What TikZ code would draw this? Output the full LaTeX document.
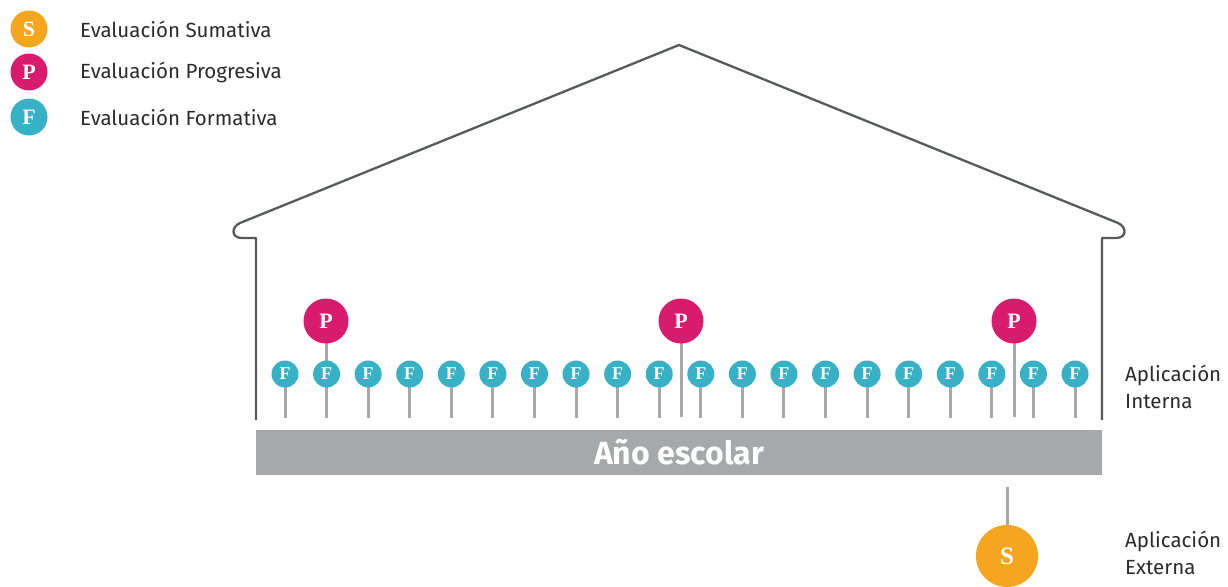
\documentclass[tikz,border=0pt]{standalone}
\usepackage{fontspec}
\setmainfont{Fira Sans}
\newfontfamily\pinfont{Liberation Serif}
\definecolor{sumc}{HTML}{F6A51F}
\definecolor{proc}{HTML}{D81B6C}
\definecolor{forc}{HTML}{37B1C5}
\definecolor{stemc}{HTML}{A7A8AB}
\definecolor{housec}{HTML}{58595B}
\definecolor{txtc}{HTML}{2B2B2B}
\begin{document}
\begin{tikzpicture}[x=1pt,y=-1pt,
  pin/.style={circle,inner sep=0pt,text=white,font=\pinfont\bfseries},
  fpin/.style={pin,fill=forc,minimum size=27pt,font=\pinfont\bfseries\fontsize{18}{18}\selectfont},
  ppin/.style={pin,fill=proc,minimum size=45pt,font=\pinfont\bfseries\fontsize{22}{22}\selectfont},
  spin/.style={pin,fill=sumc,minimum size=62pt,font=\pinfont\bfseries\fontsize{25}{25}\selectfont},
  lpin/.style={pin,minimum size=37pt,font=\pinfont\bfseries\fontsize{22}{22}\selectfont},
  stem/.style={draw=stemc,line width=3pt},
  house/.style={draw=housec,line width=2.3pt,line join=round},
  legtxt/.style={anchor=west,inner sep=0pt,text=txtc,font=\fontsize{20.5}{20.5}\selectfont},
  sidetxt/.style={anchor=west,inner sep=0pt,text=txtc,align=left,font=\fontsize{20.5}{27}\selectfont}]
\useasboundingbox (0,0) rectangle (1228,586);
% legend
\node[lpin,fill=sumc] (ls) at (29,29) {S};
\node[lpin,fill=proc] (lp) at (29,72) {P};
\node[lpin,fill=forc] (lf) at (29,117) {F};
\node[legtxt] (lst) at (80,29) {Evaluación Sumativa};
\node[legtxt] (lpt) at (80,72) {Evaluación Progresiva};
\node[legtxt] (lft) at (80,117) {Evaluación Formativa};
% house
\draw[house] (256,420) -- (256,238) -- (242,238) .. controls (231,238) and (231,227) .. (240,223)
  -- (679,45) -- (1118,223) .. controls (1127,227) and (1127,238) .. (1116,238) -- (1102,238) -- (1102,420);
% bar
\node[fill=stemc,minimum width=846pt,minimum height=45pt,inner sep=0pt,text=white,
  font=\bfseries\fontsize{32}{32}\selectfont] (bar) at (679,452) {Año escolar};
% progressive pins
\foreach \i/\x in {1/326,2/681,3/1014}{
  \coordinate (pe\i) at (\x,417);
  \coordinate (pc\i) at (\x,321);
  \draw[stem] (pc\i) -- (pe\i);
  \node[ppin] (p\i) at (pc\i) {P};
}
% formative pins
\foreach \i in {1,...,20}{
  \pgfmathsetmacro{\xx}{285+(\i-1)*41.58}
  \coordinate (fe\i) at (\xx,418);
  \coordinate (fc\i) at (\xx,374);
  \draw[stem] (fc\i) -- (fe\i);
  \node[fpin] (f\i) at (fc\i) {F};
}
% summative pin
\coordinate (st) at (1007,487);
\node[spin] (s) at (1007,556) {S};
\draw[stem] (st) -- (s.north);
% side labels
\node[sidetxt] (ai) at (1125,387) {Aplicación\\Interna};
\node[sidetxt] (ae) at (1125,553) {Aplicación\\Externa};
\end{tikzpicture}
\end{document}
